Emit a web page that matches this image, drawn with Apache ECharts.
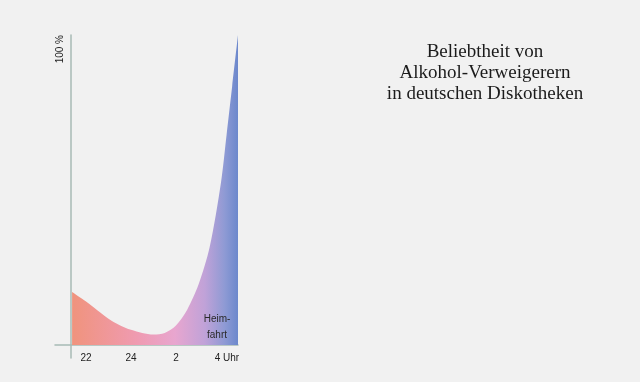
<!DOCTYPE html>
<html>
<head>
<meta charset="utf-8">
<script src="https://cdn.jsdelivr.net/npm/echarts@6/dist/echarts.min.js"></script>
<style>
html,body{margin:0;padding:0;background:#f1f1f1;}
#c{width:640px;height:382px;}
</style>
</head>
<body>
<div id="c"></div>
<script>
// Time of night (hours, 24 = midnight, 26 = 2 Uhr, 28 = 4 Uhr)
const hours  = [21.38, 22.0, 22.5, 23.0, 23.5, 24.0, 24.5, 25.0, 25.5, 26.0, 26.5, 27.0, 27.5, 28.0, 28.25, 28.5, 28.76];
// Popularity in percent
const values = [17.1, 14.0, 11.2, 8.5, 6.4, 4.9, 3.9, 3.4, 3.9, 6.3, 11.4, 19.4, 31.6, 52.3, 67.7, 83.5, 100];
// Tick labels
const tickValues = [22, 24, 26, 28];
const tickLabels = ['22', '24', '2', '4 Uhr'];
const yLabelValues = [100];
const yLabelText = ['100 %'];
const titleText = 'Beliebtheit von\nAlkohol-Verweigerern\nin deutschen Diskotheken';
const noteText = 'Heim-\nfahrt';

const chart = echarts.init(document.getElementById('c'), null, {renderer: 'canvas'});
const axisColor = '#a7bab5';
chart.setOption({
  backgroundColor: '#f1f1f1',
  animation: false,
  title: [
    {
      text: titleText, left: 480, top: 37, textAlign: 'center',
      textStyle: {fontFamily: 'Liberation Serif', fontSize: 19, fontWeight: 'normal', color: '#1b1b1b', lineHeight: 21}
    },
    {
      text: noteText, left: 212, top: 306, textAlign: 'center',
      textStyle: {fontFamily: 'Liberation Sans', fontSize: 10, fontWeight: 'normal', color: '#2a2a2a', lineHeight: 16}
    }
  ],
  grid: {left: 55, right: 402, top: 35, bottom: 24, containLabel: false},
  xAxis: {
    type: 'value', min: 20.62, max: 28.76,
    axisLine: {show: true, onZero: true, lineStyle: {color: axisColor, width: 1.5}},
    axisTick: {show: false},
    splitLine: {show: false},
    axisLabel: {
      customValues: tickValues, margin: -5,
      fontFamily: 'Liberation Sans', fontSize: 10, color: '#222',
      formatter: function (v) {
        const i = tickValues.indexOf(v);
        if (i === tickValues.length - 1) return '{u|' + tickLabels[i] + '}';
        return i >= 0 ? tickLabels[i] : '';
      },
      rich: {u: {fontFamily: 'Liberation Sans', fontSize: 10, color: '#222', padding: [0, 0, 0, 12]}}
    }
  },
  yAxis: {
    type: 'value', min: -4.19, max: 100, offset: -16,
    axisLine: {show: true, lineStyle: {color: axisColor, width: 1.5}},
    axisTick: {show: false},
    splitLine: {show: false},
    axisLabel: {
      customValues: yLabelValues, rotate: 90, align: 'right', verticalAlign: 'middle', margin: 11,
      fontFamily: 'Liberation Sans', fontSize: 10, color: '#222',
      formatter: function (v) { const i = yLabelValues.indexOf(v); return i >= 0 ? yLabelText[i] : ''; }
    }
  },
  series: [{
    type: 'line',
    data: hours.map((h, i) => [h, values[i]]),
    smooth: 0.3,
    showSymbol: false,
    lineStyle: {width: 0},
    z: 1,
    areaStyle: {
      opacity: 1,
      color: new echarts.graphic.LinearGradient(0, 0, 1, 0, [
        {offset: 0.0, color: '#f0937d'},
        {offset: 0.4, color: '#ef9bb2'},
        {offset: 0.62, color: '#e8a6cf'},
        {offset: 0.8, color: '#c0a2d8'},
        {offset: 0.92, color: '#8e9ad4'},
        {offset: 1.0, color: '#6c88cc'}
      ])
    }
  }]
});
</script>
</body>
</html>
